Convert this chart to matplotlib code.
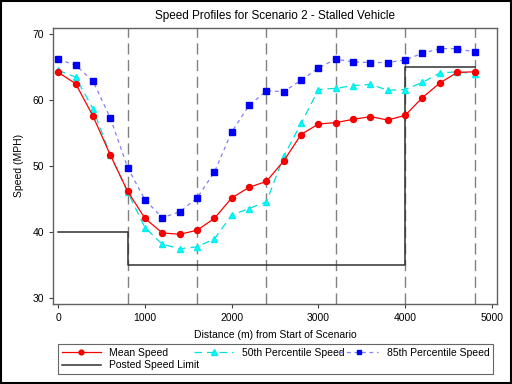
import numpy as np
import matplotlib.pyplot as plt
from matplotlib.patches import Rectangle

plt.rcParams['font.family'] = ['Liberation Sans', 'DejaVu Sans']

# distance along the scenario (m)
dist = [0, 200, 400, 600, 800, 1000, 1200, 1400, 1600, 1800, 2000, 2200, 2400,
        2600, 2800, 3000, 3200, 3400, 3600, 3800, 4000, 4200, 4400, 4600, 4800]
mean_speed = [64.2, 62.5, 57.6, 51.7, 46.2, 42.1, 39.9, 39.7, 40.3, 42.1, 45.2, 46.8, 47.7,
              50.8, 54.8, 56.4, 56.6, 57.1, 57.5, 57.0, 57.7, 60.4, 62.6, 64.2, 64.3]
p50_speed = [64.5, 63.5, 58.7, 51.7, 46.1, 40.7, 38.2, 37.5, 37.8, 39.0, 42.6, 43.6, 44.6,
             51.5, 56.5, 61.6, 61.8, 62.2, 62.4, 61.5, 61.6, 62.7, 64.1, 64.3, 64.0]
p85_speed = [66.2, 65.3, 62.9, 57.3, 49.8, 44.9, 42.2, 43.1, 45.2, 49.1, 55.2, 59.2, 61.4,
             61.3, 63.0, 64.9, 66.2, 65.8, 65.7, 65.7, 66.1, 67.1, 67.8, 67.8, 67.3]

# posted speed limit (step profile)
limit_x = [0, 800, 800, 4000, 4000, 4800]
limit_y = [40, 40, 35, 35, 65, 65]

sections = [800, 1600, 2400, 3200, 4000, 4800]

fig = plt.figure(figsize=(5.12, 3.84), dpi=100)
ax = fig.add_axes([0.1035, 0.2083, 0.8675, 0.7197])

for s in sections:
    ax.axvline(s, color='#808080', lw=1.0, ls=(0, (8, 4)), zorder=1)

ax.plot(limit_x, limit_y, color='#303030', lw=1.1, zorder=2, label='Posted Speed Limit')
ax.plot(dist, mean_speed, color='#ff0000', lw=0.9, marker='o', ms=4.3,
        mec='#ee0000', mfc='#ff0000', zorder=5, label='Mean Speed')
ax.plot(dist, p50_speed, color='#00e0e0', lw=0.9, ls=(0, (6, 4)), marker='^', ms=4.8,
        mec='#00eeee', mfc='#00ffff', zorder=4, label='50th Percentile Speed')
ax.plot(dist, p85_speed, color='#8080ff', lw=0.9, ls=(0, (3, 3)), marker='s', ms=4.3,
        mec='#0000ee', mfc='#0000ff', zorder=3, label='85th Percentile Speed')

ax.set_xlim(-61, 5061)
ax.set_ylim(29.14, 70.98)
ax.set_xticks([0, 1000, 2000, 3000, 4000, 5000])
ax.set_yticks([30, 40, 50, 60, 70])
ax.tick_params(labelsize=7.5, length=3, direction='out', color='#404040')
for sp in ax.spines.values():
    sp.set_color('#606060')
    sp.set_linewidth(1.0)

ax.set_title('Speed Profiles for Scenario 2 - Stalled Vehicle', fontsize=8.5, pad=6)
ax.set_xlabel('Distance (m) from Start of Scenario', fontsize=7.5, labelpad=5)
ax.set_ylabel('Speed (MPH)', fontsize=7.5, labelpad=6)

h, l = ax.get_legend_handles_labels()
order = [1, 0, 2, 3]
leg = fig.legend([h[i] for i in order], [l[i] for i in order], ncol=3,
                 loc='lower left', bbox_to_anchor=(0.113, 0.026, 0.85, 0.07),
                 mode='expand', fontsize=7.5, frameon=True, fancybox=False,
                 handlelength=3.8, borderpad=0.35, labelspacing=0.25,
                 handletextpad=0.8, columnspacing=1.0, borderaxespad=0,
                 markerscale=0.8)
leg.get_frame().set_edgecolor('#404040')
leg.get_frame().set_linewidth(0.8)

fig.patches.append(Rectangle((0.002, 0.002), 0.996, 0.996, transform=fig.transFigure,
                             fill=False, edgecolor='black', lw=1.5))

fig.savefig('out.png', dpi=100)
